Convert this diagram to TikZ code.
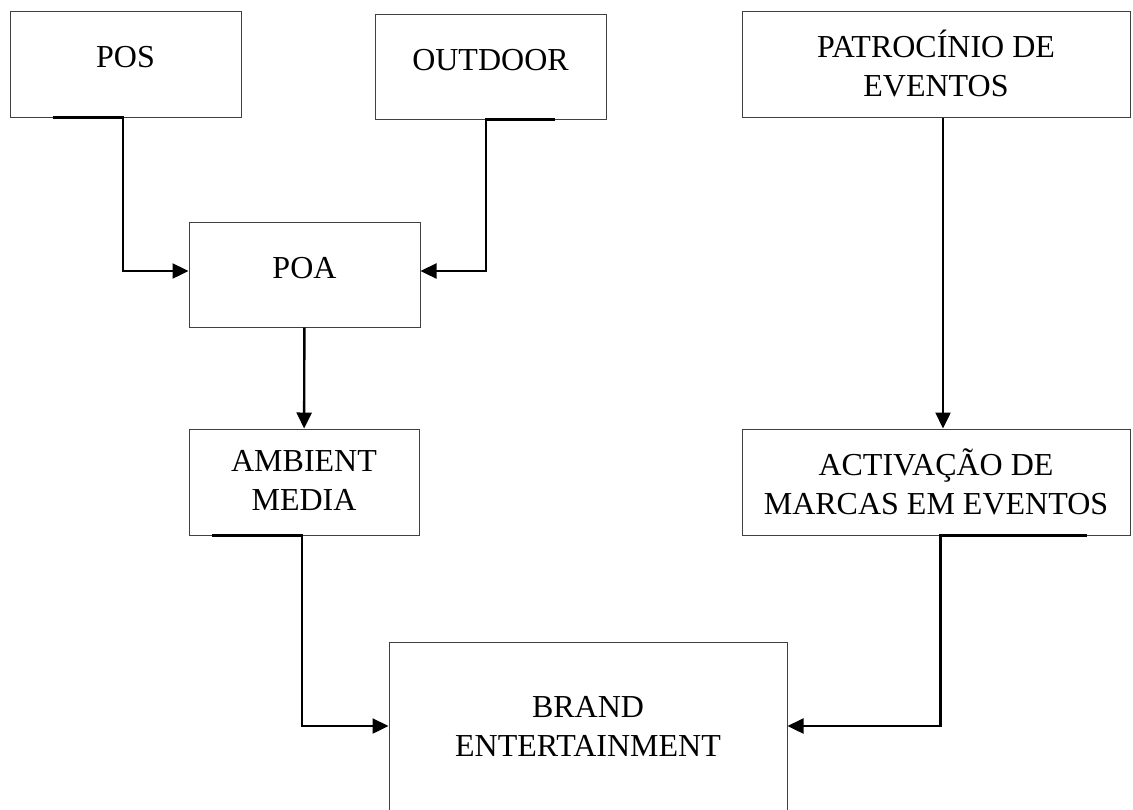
\documentclass[tikz,border=0pt]{standalone}
\usepackage{fontspec}
\setmainfont{Liberation Serif}
\usetikzlibrary{arrows.meta}
\begin{document}
\begin{tikzpicture}[x=0.5pt, y=-0.5pt,
		caixa/.style={draw=black!75, line width=0.5pt, inner sep=0pt, align=center, font=\fontsize{16}{19.5}\selectfont},
		uma/.style={text depth=7pt},
		seta/.style={line width=1.2pt, -{Triangle[length=8pt, width=7.5pt]}}]
		\useasboundingbox (0,0) rectangle (1133,809);
		
		%top row
		\node[caixa, uma, minimum width=115.5pt, minimum height=53pt] (pos) at (125.5, 64){POS};
		\node[caixa, uma, minimum width=115.5pt, minimum height=52.5pt] (outdoor) at (490.5, 66.5){OUTDOOR};
		\node[caixa, minimum width=194pt, minimum height=53pt] (patro) at (936, 64){PATROC\'INIO DE\\EVENTOS};
		
		%middle
		\node[caixa, uma, minimum width=115.5pt, minimum height=52.5pt] (poa) at (304.5, 274.5){POA};
		\node[caixa, minimum width=115pt, minimum height=53pt, text depth=2pt] (ambient) at (304, 482){AMBIENT\\MEDIA};
		\node[caixa, minimum width=194pt, minimum height=53pt] (acti) at (936, 482){ACTIVA\c{C}\~AO DE\\MARCAS EM EVENTOS};
		
		%bottom
		\node[caixa, minimum width=199pt, minimum height=84pt] (brand) at (588, 726){BRAND\\ENTERTAINMENT};
		
		%connectors
		\draw[seta] ([xshift=21.5pt]pos.south west) -- ([xshift=-1.25pt]pos.south) |- ([yshift=1.75pt]poa.west);
		\draw[seta] ([xshift=32.25pt]outdoor.south) -- ([xshift=-2.25pt]outdoor.south) |- ([yshift=1.75pt]poa.east);
		\draw[seta] (poa) -- (ambient);
		\draw[seta] ([xshift=3.5pt]patro.south) -- ([xshift=3.5pt]acti.north);
		\draw[seta] ([xshift=11.5pt]ambient.south west) -- ([xshift=-1pt]ambient.south) |- (brand.west);
		\draw[seta] ([xshift=-22pt]acti.south east) -- ([xshift=99.5pt]acti.south west) |- (brand.east);
\end{tikzpicture}
\end{document}
